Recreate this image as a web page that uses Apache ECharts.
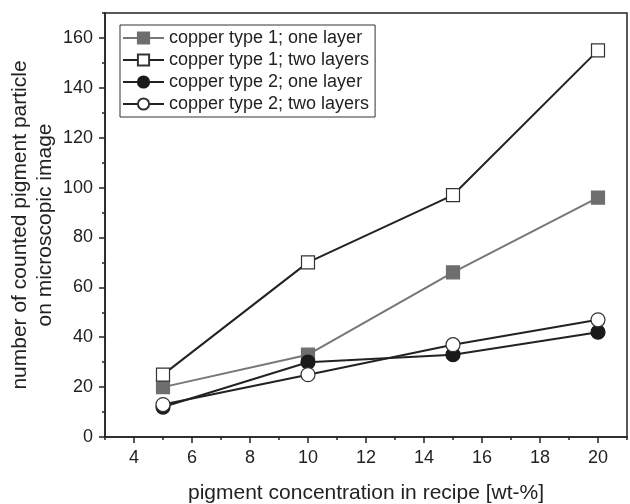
<!DOCTYPE html>
<html>
<head>
<meta charset="utf-8">
<script src="https://cdn.jsdelivr.net/npm/echarts@6/dist/echarts.min.js"></script>
<style>
  html, body { margin: 0; padding: 0; background: #fff; }
  #chart { width: 630px; height: 504px; }
</style>
</head>
<body>
<div id="chart"></div>
<script>
  // recipe concentration [wt-%]
  var concentration = [5, 10, 15, 20];

  var type1OneLayer = [20, 33, 66, 96];
  var type1TwoLayers = [25, 70, 97, 155];
  var type2OneLayer = [12, 30, 33, 42];
  var type2TwoLayers = [13, 25, 37, 47];

  var seriesNames = [
    'copper type 1; one layer',
    'copper type 1; two layers',
    'copper type 2; one layer',
    'copper type 2; two layers'
  ];

  // labelled (major) ticks
  var xMajorTicks = [4, 6, 8, 10, 12, 14, 16, 18, 20];
  var yMajorTicks = [0, 20, 40, 60, 80, 100, 120, 140, 160];

  function pairs(values) {
    return concentration.map(function (c, i) { return [c, values[i]]; });
  }

  var font = 'Liberation Sans, Arial, sans-serif';
  var ink = '#222';
  var axisInk = '#222';

  function makeSeries(name, values, symbol, size, lineColor, fill) {
    return {
      name: name,
      type: 'line',
      data: pairs(values),
      symbol: symbol,
      symbolSize: size,
      showAllSymbol: true,
      lineStyle: { width: 2, color: lineColor },
      itemStyle: { color: fill, borderColor: fill === '#fff' ? '#333' : fill, borderWidth: 1.2, opacity: 1 },
      emphasis: { disabled: true },
      z: 3
    };
  }

  var chart = echarts.init(document.getElementById('chart'), null, { renderer: 'canvas' });

  chart.setOption({
    animation: false,
    backgroundColor: '#fff',
    textStyle: { fontFamily: font, color: ink },
    grid: {
      left: 105,
      right: 3,
      top: 13,
      bottom: 67,
      containLabel: false,
      outerBoundsMode: 'none',
      show: true,
      borderColor: axisInk,
      borderWidth: 1.5
    },
    legend: {
      orient: 'vertical',
      left: 120,
      top: 25,
      padding: [4, 6, 4, 2],
      itemGap: 4,
      itemWidth: 41,
      itemHeight: 14,
      borderColor: '#333',
      borderWidth: 1,
      textStyle: { fontFamily: font, fontSize: 18, color: ink },
      data: seriesNames
    },
    xAxis: [
      {
        // minor ticks every unit
        type: 'value',
        min: 3,
        max: 21,
        interval: 1,
        axisLine: { onZero: false, lineStyle: { color: axisInk, width: 1.5 } },
        axisTick: { show: true, length: 3, lineStyle: { color: axisInk, width: 1.5 } },
        axisLabel: { show: false },
        splitLine: { show: false }
      },
      {
        type: 'value',
        position: 'bottom',
        min: 3,
        max: 21,
        name: 'pigment concentration in recipe [wt-%]',
        nameLocation: 'middle',
        nameGap: 46,
        nameMoveOverlap: false,
        nameTextStyle: { fontFamily: font, fontSize: 21, color: ink },
        axisLine: { show: false, onZero: false },
        axisTick: { show: true, length: 6, customValues: xMajorTicks, lineStyle: { color: axisInk, width: 1.5 } },
        axisLabel: { fontFamily: font, fontSize: 18, color: ink, margin: 12, customValues: xMajorTicks },
        splitLine: { show: false }
      }
    ],
    yAxis: [
      {
        type: 'value',
        min: 0,
        max: 170,
        interval: 10,
        axisLine: { show: true, lineStyle: { color: axisInk, width: 1.5 } },
        axisTick: { show: true, length: 3, lineStyle: { color: axisInk, width: 1.5 } },
        axisLabel: { show: false },
        splitLine: { show: false }
      },
      {
        type: 'value',
        position: 'left',
        min: 0,
        max: 170,
        name: 'number of counted pigment particle\non microscopic image',
        nameLocation: 'middle',
        nameGap: 47,
        nameMoveOverlap: false,
        nameTextStyle: { fontFamily: font, fontSize: 21, color: ink, lineHeight: 25 },
        axisLine: { show: false },
        axisTick: { show: true, length: 6, customValues: yMajorTicks, lineStyle: { color: axisInk, width: 1.5 } },
        axisLabel: { fontFamily: font, fontSize: 18, color: ink, margin: 12, customValues: yMajorTicks },
        splitLine: { show: false }
      }
    ],
    series: [
      makeSeries(seriesNames[0], type1OneLayer, 'rect', 13, '#777', '#6e6e6e'),
      makeSeries(seriesNames[1], type1TwoLayers, 'rect', 13, '#222', '#fff'),
      makeSeries(seriesNames[2], type2OneLayer, 'circle', 14, '#222', '#1a1a1a'),
      makeSeries(seriesNames[3], type2TwoLayers, 'circle', 14, '#222', '#fff')
    ]
  });
</script>
</body>
</html>
